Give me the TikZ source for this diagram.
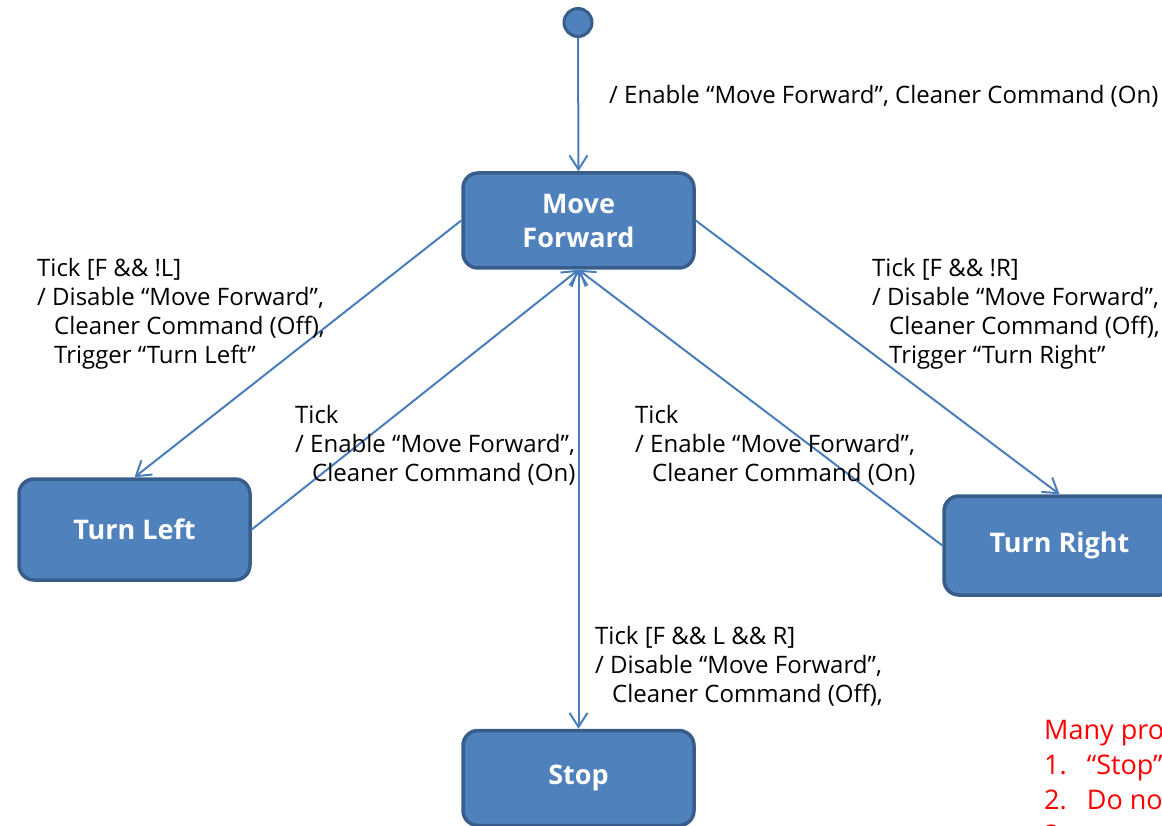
\documentclass[tikz,border=0pt]{standalone}
\usepackage{fontspec}
\setmainfont{Open Sans}
\usetikzlibrary{arrows.meta}
\definecolor{stfill}{HTML}{4F81BD}
\definecolor{stdraw}{HTML}{385D8A}
\definecolor{edgeblue}{HTML}{4A7EBB}
\tikzset{
  state/.style={rectangle, rounded corners=15pt, fill=stfill, draw=stdraw,
    line width=3.5pt, minimum width=231pt, inner sep=0pt, text=white,
    align=center, font=\fontsize{27}{34}\selectfont\bfseries},
  initial dot/.style={circle, fill=stfill, draw=stdraw, line width=3pt,
    minimum size=28pt, inner sep=0pt},
  barb/.tip={Straight Barb[length=14pt,width=18pt]},
  trans/.style={draw=edgeblue, line width=2pt, -barb},
  % multi-line labels are anchored at the baseline of their last line
  lbl/.style={anchor=base west, align=left, inner sep=0pt,
    font=\fontsize{24}{29}\selectfont},
  note/.style={anchor=base west, align=left, inner sep=0pt, text=red,
    font=\fontsize{27}{35}\selectfont}
}
\newcommand{\ind}{\hspace*{17pt}}
\begin{document}
\begin{tikzpicture}[x=1pt, y=-1pt]
\useasboundingbox (0,0) rectangle (1162,826);
\clip (0,0) rectangle (1162,826);

% states
\node[initial dot] (init) at (578,22.5) {};
\node[state, minimum height=95pt]  (mf)   at (578.5,220.5) {Move\\Forward};
\node[state, minimum height=101pt] (tl)   at (134.5,529.5) {Turn Left};
\node[state, minimum height=99pt]  (tr)   at (1059.5,545.5) {Turn Right};
\node[state, minimum height=95pt]  (stop) at (578.5,778) {Stop};

% transitions
\draw[trans] (init.south) -- (mf.north);
\draw[trans] (mf.west) -- (tl.north);
\draw[trans] (tl.east) -- (mf.south);
\draw[trans] (mf.east) -- (tr.north);
\draw[trans] (tr.west) -- (mf.south);
\draw[trans, barb-barb] (mf.south) -- (stop.north);

% transition labels
\node[lbl] (l0) at (609,104) {/ Enable “Move Forward”, Cleaner Command (On)};
\node[lbl] (l1) at (37,363) {Tick [F \&\& !L]\\/ Disable “Move Forward”,\\\ind Cleaner Command (Off),\\\ind Trigger “Turn Left”};
\node[lbl] (l2) at (295,481) {Tick\\/ Enable “Move Forward”,\\\ind Cleaner Command (On)};
\node[lbl] (l3) at (595,702) {Tick [F \&\& L \&\& R]\\/ Disable “Move Forward”,\\\ind Cleaner Command (Off),};
\node[lbl] (l4) at (872,363) {Tick [F \&\& !R]\\/ Disable “Move Forward”,\\\ind Cleaner Command (Off),\\\ind Trigger “Turn Right”};
\node[lbl] (l5) at (635,481) {Tick\\/ Enable “Move Forward”,\\\ind Cleaner Command (On)};

% remark
\node[note] (rem) at (1044,844) {Many problems\\1.\hspace*{20pt}“Stop”\\2.\hspace*{20pt}Do not\\3.};
\end{tikzpicture}
\end{document}
